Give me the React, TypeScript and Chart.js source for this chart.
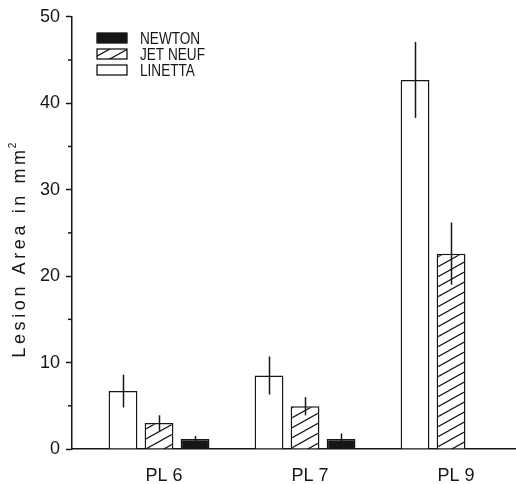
import React, { useEffect, useRef } from 'react';
import { Chart, registerables } from 'chart.js';

Chart.register(...registerables);

const categories = ['PL 6', 'PL 7', 'PL 9'];
const categoryPositions = [1, 2, 3];
const linettaValues = [6.7, 8.5, 42.7];
const linettaErrors = [1.9, 2.2, 4.4];
const jetNeufValues = [3.0, 4.95, 22.6];
const jetNeufErrors = [0.9, 1.05, 3.6];
const newtonValues: (number | null)[] = [1.15, 1.15, null];
const newtonErrors: (number | null)[] = [0.35, 0.65, null];
const yMinorTicks = [5, 15, 25, 35, 45];
const legendLabels = ['NEWTON', 'JET NEUF', 'LINETTA'];
const yTitle = 'Lesion Area in mm';

const INK = '#161616';
const FAMILY = '"Liberation Sans", Arial, sans-serif';

function makeHatch(): CanvasPattern | string {
  const c = document.createElement('canvas');
  c.width = 18;
  c.height = 10;
  const g = c.getContext('2d');
  if (!g) return '#fff';
  g.fillStyle = '#fff';
  g.fillRect(0, 0, 18, 10);
  g.strokeStyle = INK;
  g.lineWidth = 1.2;
  g.beginPath();
  g.moveTo(-18, 20);
  g.lineTo(36, -10);
  g.moveTo(-18, 10);
  g.lineTo(18, -10);
  g.moveTo(0, 20);
  g.lineTo(36, 0);
  g.stroke();
  const p = g.createPattern(c, 'repeat');
  return p || '#fff';
}

export default function App() {
  const ref = useRef<HTMLCanvasElement | null>(null);

  useEffect(() => {
    const canvas = ref.current;
    if (!canvas) return;
    const hatch = makeHatch();

    const extras = {
      id: 'extras',
      afterDatasetsDraw(chart: any) {
        const ctx = chart.ctx;
        const yScale = chart.scales.y;
        const errs = [linettaErrors, jetNeufErrors, newtonErrors];
        const vals = [linettaValues, jetNeufValues, newtonValues];
        ctx.save();
        ctx.strokeStyle = INK;
        ctx.lineWidth = 1.5;
        for (let i = 0; i < 3; i++) {
          const meta = chart.getDatasetMeta(i);
          vals[i].forEach((v: number | null, j: number) => {
            const e = errs[i][j];
            if (v == null || e == null) return;
            const el = meta.data[j];
            const x = Math.round(el.x) + 0.5;
            ctx.beginPath();
            ctx.moveTo(x, yScale.getPixelForValue(v + e));
            ctx.lineTo(x, yScale.getPixelForValue(v - e));
            ctx.stroke();
          });
        }
        ctx.restore();
      },
      afterDraw(chart: any) {
        const ctx = chart.ctx;
        const yScale = chart.scales.y;
        const left = chart.chartArea.left;
        ctx.save();
        // minor ticks
        ctx.strokeStyle = INK;
        ctx.lineWidth = 1.5;
        yMinorTicks.forEach((t) => {
          const y = yScale.getPixelForValue(t);
          ctx.beginPath();
          ctx.moveTo(left - 4, y);
          ctx.lineTo(left, y);
          ctx.stroke();
        });
        // legend
        const fills: (string | CanvasPattern)[] = [INK, hatch, '#fff'];
        legendLabels.forEach((lab, k) => {
          const cy = 38 + k * 16;
          ctx.fillStyle = fills[k];
          ctx.fillRect(97, cy - 5, 30, 10);
          ctx.strokeStyle = INK;
          ctx.lineWidth = 1.3;
          ctx.strokeRect(97, cy - 5, 30, 10);
          ctx.save();
          ctx.translate(140, cy + 1);
          ctx.scale(0.8, 1);
          ctx.fillStyle = INK;
          ctx.font = `17px ${FAMILY}`;
          ctx.textBaseline = 'middle';
          ctx.textAlign = 'left';
          ctx.fillText(lab, 0, 0);
          ctx.restore();
        });
        // y title
        ctx.save();
        ctx.translate(20, 249);
        ctx.rotate(-Math.PI / 2);
        ctx.fillStyle = INK;
        ctx.font = `18px ${FAMILY}`;
        (ctx as any).letterSpacing = '3.6px';
        const w = ctx.measureText(yTitle).width;
        ctx.textBaseline = 'middle';
        ctx.textAlign = 'left';
        const start = -(w + 6) / 2;
        ctx.fillText(yTitle, start, 0);
        (ctx as any).letterSpacing = '0px';
        ctx.font = `10px ${FAMILY}`;
        ctx.fillText('2', start + w - 2, -7);
        ctx.restore();
        ctx.restore();
      },
    };

    const tickFont = { family: FAMILY, size: 18 };

    const chart = new Chart(canvas, {
      type: 'bar',
      data: {
        datasets: [
          {
            label: 'LINETTA',
            data: categoryPositions.map((x, i) => ({ x, y: linettaValues[i] })),
            backgroundColor: '#ffffff',
            borderColor: INK,
            borderWidth: 1.5,
          },
          {
            label: 'JET NEUF',
            data: categoryPositions.map((x, i) => ({ x, y: jetNeufValues[i] })),
            backgroundColor: hatch as any,
            borderColor: INK,
            borderWidth: 1.5,
          },
          {
            label: 'NEWTON',
            data: categoryPositions.map((x, i) => ({ x, y: newtonValues[i] })),
            backgroundColor: INK,
            borderColor: INK,
            borderWidth: 1.5,
          },
        ],
      },
      options: {
        animation: false,
        responsive: false,
        layout: { padding: { top: 15, right: 1, bottom: 0, left: 0 } },
        datasets: { bar: { categoryPercentage: 0.74, barPercentage: 0.8 } },
        plugins: { legend: { display: false }, tooltip: { enabled: false } },
        scales: {
          x: {
            type: 'linear',
            offset: false,
            min: 0.404,
            max: 3.438,
            afterBuildTicks: (s: any) => {
              s.ticks = categoryPositions.map((v) => ({ value: v }));
            },
            ticks: {
              callback: (v: any) => {
                const i = categoryPositions.indexOf(Number(v));
                return i >= 0 ? categories[i] : '';
              },
              labelOffset: 5,
              padding: 16,
              font: tickFont,
              color: INK,
              autoSkip: false,
              maxRotation: 0,
            },
            grid: { display: false, drawTicks: false, offset: false },
            border: { display: true, color: INK, width: 1.5 },
            afterFit: (s: any) => {
              s.height = 35;
            },
          },
          y: {
            min: 0,
            max: 50,
            ticks: { stepSize: 10, padding: 6, font: tickFont, color: INK },
            grid: {
              drawOnChartArea: false,
              drawTicks: true,
              tickLength: 6,
              tickWidth: 1.5,
              tickColor: INK,
            },
            border: { display: true, color: INK, width: 1.5 },
            afterFit: (s: any) => {
              s.width = 72;
            },
          },
        },
      } as any,
      plugins: [extras],
    });

    return () => chart.destroy();
  }, []);

  return (
    <div style={{ position: 'fixed', left: 0, top: 0, width: 516, height: 484, background: '#fff' }}>
      <canvas ref={ref} width={516} height={484} style={{ display: 'block' }} />
    </div>
  );
}
